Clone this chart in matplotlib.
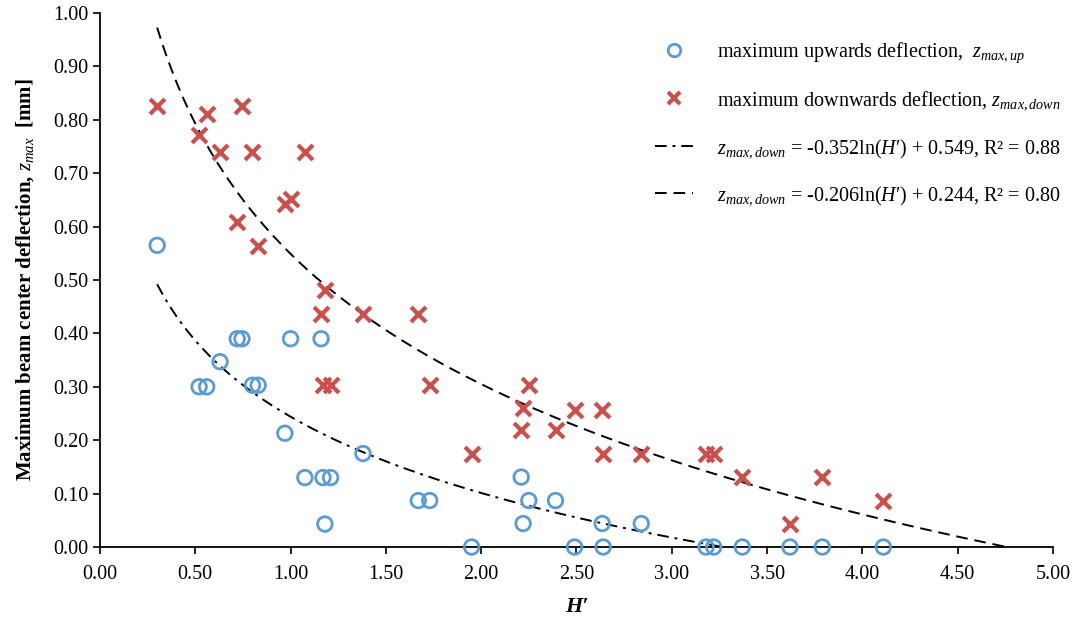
import numpy as np
import matplotlib
matplotlib.use("Agg")
import matplotlib.pyplot as plt
from matplotlib.lines import Line2D

plt.rcParams['font.family'] = ['Liberation Serif', 'DejaVu Serif']
plt.rcParams['mathtext.fontset'] = 'custom'
plt.rcParams['mathtext.rm'] = 'Liberation Serif'
plt.rcParams['mathtext.it'] = 'Liberation Serif:italic'
plt.rcParams['mathtext.bf'] = 'Liberation Serif:bold'

# H' values (shared by both series)
h_prime = [0.30, 0.52, 0.56, 0.63, 0.72, 0.745, 0.80, 0.83, 0.97, 1.00,
           1.075, 1.16, 1.17, 1.18, 1.21, 1.38, 1.67, 1.73, 1.95, 2.21,
           2.22, 2.25, 2.39, 2.49, 2.635, 2.64, 2.84, 3.18, 3.22, 3.37,
           3.62, 3.79, 4.11]
z_up = [0.565, 0.30, 0.30, 0.347, 0.39, 0.39, 0.303, 0.303, 0.213, 0.39,
        0.13, 0.39, 0.13, 0.043, 0.13, 0.175, 0.087, 0.087, 0.0, 0.131,
        0.044, 0.087, 0.087, 0.0, 0.044, 0.0, 0.044, 0.0, 0.0, 0.0,
        0.0, 0.0, 0.0]
z_down = [0.825, 0.772, 0.811, 0.739, 0.608, 0.825, 0.739, 0.564, 0.642, 0.652,
          0.739, 0.436, 0.303, 0.481, 0.303, 0.436, 0.436, 0.303, 0.175, 0.219,
          0.26, 0.304, 0.219, 0.257, 0.257, 0.175, 0.175, 0.175, 0.175, 0.132,
          0.044, 0.132, 0.086]

# log fits  z = a*ln(H') + b, drawn from 0.3 to where they meet the axis
fit_upper = (-0.352, 0.549)
fit_lower = (-0.206, 0.244)

lbl_up = r"maximum upwards deflection,  $z_{max,up}$"
lbl_down = r"maximum downwards deflection, $z_{max,down}$"
lbl_fit1 = r"$z_{max,down}$ = -0.352ln($H$′) + 0.549, R² = 0.88"
lbl_fit2 = r"$z_{max,down}$ = -0.206ln($H$′) + 0.244, R² = 0.80"

blue = '#5b9bd5'
red = '#c9504d'
dash_style = (0, (6, 3.5))
dashdot_style = (0, (6, 3, 1.5, 3))

fig = plt.figure(figsize=(10.75, 6.19), dpi=100)
ax = fig.add_axes([0.093, 0.1163, 0.8865, 0.8627])

a, b = fit_upper
xu = np.linspace(0.3, 4.8, 300)
ax.plot(xu, a * np.log(xu) + b, color='black', lw=1.4, linestyle=dash_style)
a, b = fit_lower
xl = np.linspace(0.3, np.exp(b / -a), 300)
ax.plot(xl, a * np.log(xl) + b, color='black', lw=1.4, linestyle=dashdot_style)

ax.scatter(h_prime, z_up, s=110, facecolors='none', edgecolors=blue,
           linewidths=2, zorder=3, clip_on=False)
ax.scatter(h_prime, z_down, s=115, marker='x', color=red,
           linewidths=3, zorder=3, clip_on=False)

ax.set_xlim(0, 5)
ax.set_ylim(0, 1)
ax.set_xticks(np.arange(0, 5.01, 0.5))
ax.set_yticks(np.arange(0, 1.001, 0.1))
ax.xaxis.set_major_formatter(matplotlib.ticker.FormatStrFormatter('%.2f'))
ax.yaxis.set_major_formatter(matplotlib.ticker.FormatStrFormatter('%.2f'))
ax.tick_params(direction='out', length=5, width=1.2, labelsize=14.5,
               colors='black')
ax.tick_params(axis='x', pad=8)
for s in ['top', 'right']:
    ax.spines[s].set_visible(False)
for s in ['left', 'bottom']:
    ax.spines[s].set_linewidth(1.3)

ax.set_xlabel("H′", fontsize=16, fontweight='bold', fontstyle='italic',
              labelpad=9)
ax.set_ylabel(r"Maximum beam center deflection, $z_{max}$  [mm]",
              fontsize=15, fontweight='bold', labelpad=12)

handles = [
    Line2D([], [], marker='o', linestyle='none', markersize=9,
           markerfacecolor='none', markeredgecolor=blue, markeredgewidth=2),
    Line2D([], [], marker='x', linestyle='none', markersize=9,
           color=red, markeredgewidth=3),
    Line2D([], [], color='black', lw=1.4, linestyle=dashdot_style),
    Line2D([], [], color='black', lw=1.4, linestyle=dash_style),
]
fig.legend(handles, [lbl_up, lbl_down, lbl_fit1, lbl_fit2],
           loc='upper left', bbox_to_anchor=(0.609, 0.935),
           frameon=False, fontsize=14.5, handlelength=1.9,
           handletextpad=1.2, labelspacing=1.22, borderpad=0,
           borderaxespad=0)

fig.savefig("out.png", dpi=100)
